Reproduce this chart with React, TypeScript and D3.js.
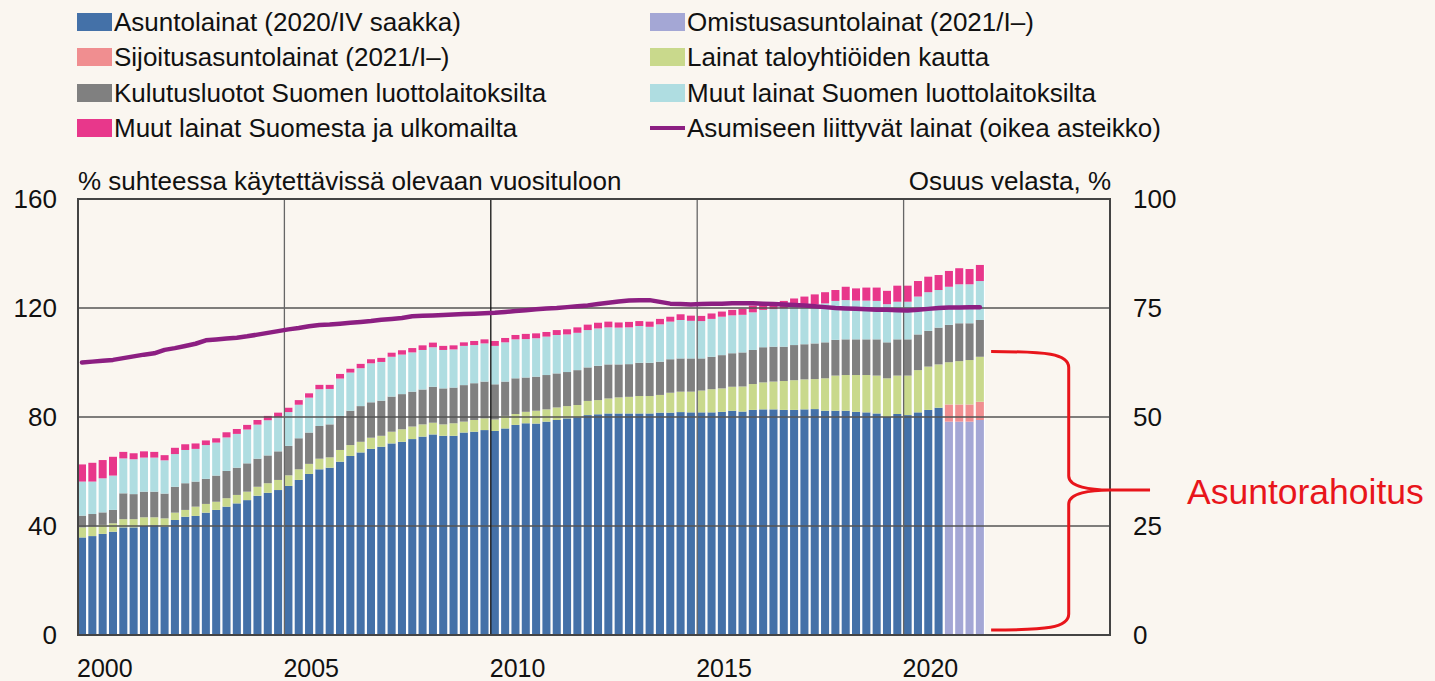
import React from 'react';
import * as d3 from 'd3';

// quarterly, 2000Q1 .. 2021Q4
const YEARS = [2000, 2001, 2002, 2003, 2004, 2005, 2006, 2007, 2008, 2009, 2010,
  2011, 2012, 2013, 2014, 2015, 2016, 2017, 2018, 2019, 2020, 2021];
const QUARTERS = [0, 1, 2, 3];

// Asuntolainat (2020/IV saakka), 2000Q1..2020Q4
const asuntolainat = [
  35.8, 36.3, 37.1, 37.9, 39.5, 39.5, 40.0, 40.3, 39.8, 42.2, 43.4, 43.7,
  44.9, 45.9, 47.1, 48.3, 49.5, 51.1, 52.2, 53.2, 54.7, 56.9, 59.1, 60.8,
  61.4, 63.6, 65.7, 67.0, 68.3, 69.1, 70.3, 70.9, 71.9, 72.8, 73.6, 73.1,
  73.1, 74.3, 74.6, 75.2, 74.9, 75.8, 77.1, 77.7, 77.6, 78.3, 78.9, 79.5,
  79.9, 80.7, 81.0, 81.3, 81.3, 81.3, 81.3, 81.3, 81.6, 81.6, 81.8, 81.7,
  81.7, 81.7, 81.9, 82.3, 82.0, 82.6, 82.8, 82.8, 82.6, 82.6, 82.8, 82.9,
  82.3, 82.3, 82.3, 81.9, 81.7, 81.3, 80.1, 81.1, 80.7, 81.7, 82.6, 83.4,
];
// 2021Q1..Q4
const omistusasuntolainat = [78.3, 78.3, 78.3, 78.9];
const sijoitusasuntolainat = [6.3, 6.3, 6.3, 6.7];

const taloyhtiot = [
  3.7, 3.5, 3.3, 3.1, 3.0, 3.0, 3.2, 2.9, 3.0, 2.7, 2.5, 3.4,
  3.2, 3.0, 3.1, 3.1, 3.1, 3.3, 3.5, 3.7, 3.9, 3.9, 3.7, 3.9,
  3.8, 4.3, 4.0, 3.9, 4.1, 4.0, 4.3, 4.6, 4.6, 4.5, 4.3, 4.2,
  4.6, 4.0, 4.3, 4.3, 4.2, 4.6, 4.0, 4.2, 4.7, 4.5, 4.6, 4.5,
  4.5, 5.2, 5.2, 5.5, 5.9, 6.1, 6.4, 6.4, 6.5, 7.3, 7.5, 7.6,
  8.0, 8.5, 8.6, 8.8, 9.2, 9.5, 9.9, 10.2, 10.6, 10.9, 11.0, 11.0,
  11.9, 12.9, 13.1, 13.5, 13.7, 13.9, 14.1, 14.1, 14.5, 15.5, 15.9, 15.9,
  15.5, 15.9, 16.3, 16.5,
];

const kulutusluotot = [
  4.3, 4.6, 4.6, 4.9, 9.5, 9.2, 9.4, 9.4, 9.1, 9.5, 9.8, 9.2,
  9.2, 9.6, 10.0, 10.0, 10.4, 10.3, 10.2, 10.5, 10.8, 11.4, 11.5, 12.0,
  12.1, 12.5, 12.6, 13.1, 13.0, 12.9, 12.9, 12.9, 12.8, 12.8, 13.2, 13.2,
  13.1, 13.4, 13.5, 13.5, 12.9, 12.6, 13.1, 12.6, 12.5, 12.6, 12.5, 12.5,
  12.8, 12.3, 12.6, 12.5, 12.1, 12.0, 12.2, 12.2, 12.2, 12.3, 12.2, 12.2,
  11.8, 11.9, 12.2, 12.3, 12.5, 12.5, 12.9, 12.8, 12.6, 12.9, 12.9, 13.1,
  13.2, 13.1, 13.1, 13.1, 13.1, 13.3, 13.2, 13.3, 13.3, 13.1, 13.1, 13.5,
  13.7, 13.9, 13.5, 13.5,
];

const muutLuottolaitos = [
  12.5, 11.9, 12.5, 12.6, 12.8, 12.8, 12.5, 12.5, 12.2, 12.0, 12.2, 12.0,
  12.4, 12.1, 12.3, 12.4, 12.4, 12.5, 12.9, 12.5, 12.4, 12.3, 12.8, 13.5,
  13.0, 13.7, 14.0, 13.9, 14.3, 14.2, 14.6, 14.5, 14.4, 14.5, 14.5, 14.1,
  14.0, 14.4, 14.0, 14.0, 14.1, 14.4, 14.3, 14.1, 14.1, 14.1, 14.1, 13.8,
  13.7, 13.7, 13.7, 13.6, 13.5, 13.5, 13.5, 13.2, 13.7, 13.8, 14.1, 13.8,
  13.7, 13.9, 14.1, 13.9, 13.8, 13.8, 13.7, 13.8, 14.1, 14.1, 14.4, 14.3,
  14.3, 14.3, 14.4, 14.2, 14.2, 14.1, 14.0, 13.8, 13.8, 13.9, 14.2, 13.8,
  14.0, 14.3, 14.3, 14.3,
];

const muutUlkomailta = [
  6.3, 6.9, 6.7, 6.9, 2.4, 2.2, 2.3, 2.1, 1.9, 2.3, 2.1, 2.0,
  1.7, 1.6, 1.9, 1.8, 1.7, 1.7, 1.6, 1.7, 1.6, 1.7, 1.6, 1.6,
  1.5, 1.7, 1.4, 1.6, 1.5, 1.5, 1.5, 1.6, 1.6, 1.7, 1.7, 1.5,
  1.5, 1.3, 1.5, 1.5, 1.8, 1.6, 1.6, 1.9, 1.8, 1.7, 1.8, 1.9,
  2.0, 2.0, 2.1, 2.1, 1.9, 2.0, 1.8, 1.9, 2.0, 1.8, 2.1, 1.9,
  1.9, 2.0, 1.9, 2.0, 2.2, 2.5, 2.4, 2.4, 2.7, 3.0, 3.1, 3.7,
  4.1, 4.0, 4.9, 4.5, 4.8, 4.9, 4.9, 5.9, 5.9, 5.7, 5.7, 5.5,
  5.8, 5.9, 5.6, 5.9,
];

// Asumiseen liittyvät lainat, osuus velasta % (oikea asteikko)
const asumiseenOsuus = [
  62.5, 62.7, 62.9, 63.1, 63.5, 63.9, 64.3, 64.6, 65.4, 65.8, 66.3, 66.8,
  67.6, 67.8, 68.0, 68.2, 68.5, 68.9, 69.3, 69.7, 70.1, 70.4, 70.8, 71.1,
  71.2, 71.4, 71.6, 71.8, 72.0, 72.3, 72.5, 72.7, 73.1, 73.2, 73.3, 73.4,
  73.5, 73.6, 73.7, 73.8, 73.9, 74.1, 74.3, 74.5, 74.7, 74.9, 75.0, 75.2,
  75.4, 75.6, 75.9, 76.2, 76.5, 76.7, 76.8, 76.8, 76.4, 76.0, 75.9, 75.8,
  75.9, 76.0, 76.0, 76.1, 76.1, 76.1, 76.0, 75.9, 75.8, 75.7, 75.6, 75.4,
  75.2, 75.0, 74.9, 74.8, 74.7, 74.6, 74.6, 74.5, 74.4, 74.6, 74.8, 75.0,
  75.1, 75.1, 75.2, 75.2,
];

const leftTicks = [0, 40, 80, 120, 160];
const rightTicks = [0, 25, 50, 75, 100];
const yearLabels = [2000, 2005, 2010, 2015, 2020];

const KEYS = ['asunto', 'omistus', 'sijoitus', 'taloyhtio', 'kulutus', 'muutLuotto', 'muutUlko'];
const COLORS: Record<string, string> = {
  asunto: '#4471a8',
  omistus: '#a4a7d5',
  sijoitus: '#f08e90',
  taloyhtio: '#c9d98c',
  kulutus: '#808080',
  muutLuotto: '#afdde1',
  muutUlko: '#e8378b',
  line: '#8c1f82',
  red: '#e8151b',
};
const LEGEND = [
  { key: 'asunto', label: 'Asuntolainat (2020/IV saakka)', col: 0, row: 0 },
  { key: 'sijoitus', label: 'Sijoitusasuntolainat (2021/I–)', col: 0, row: 1 },
  { key: 'kulutus', label: 'Kulutusluotot Suomen luottolaitoksilta', col: 0, row: 2 },
  { key: 'muutUlko', label: 'Muut lainat Suomesta ja ulkomailta', col: 0, row: 3 },
  { key: 'omistus', label: 'Omistusasuntolainat (2021/I–)', col: 1, row: 0 },
  { key: 'taloyhtio', label: 'Lainat taloyhtiöiden kautta', col: 1, row: 1 },
  { key: 'muutLuotto', label: 'Muut lainat Suomen luottolaitoksilta', col: 1, row: 2 },
  { key: 'line', label: 'Asumiseen liittyvät lainat (oikea asteikko)', col: 1, row: 3 },
];

const FONT = '"Liberation Sans", Arial, sans-serif';
const BG = '#faf6f0';
const FS = 26;

export default function App() {
  const W = 1435;
  const H = 681;
  const plot = { left: 78, right: 1110, top: 199, bottom: 635 };

  const periods = YEARS.flatMap(y => QUARTERS.map(q => y + q / 4));
  const nAsunto = asuntolainat.length;

  const rows = periods.map((t, i) => ({
    t,
    asunto: i < nAsunto ? asuntolainat[i] : 0,
    omistus: i >= nAsunto ? omistusasuntolainat[i - nAsunto] : 0,
    sijoitus: i >= nAsunto ? sijoitusasuntolainat[i - nAsunto] : 0,
    taloyhtio: taloyhtiot[i],
    kulutus: kulutusluotot[i],
    muutLuotto: muutLuottolaitos[i],
    muutUlko: muutUlkomailta[i],
  }));

  const x = d3.scaleLinear().domain([2000, 2025]).range([plot.left, plot.right]);
  const yL = d3.scaleLinear().domain([0, 160]).range([plot.bottom, plot.top]);
  const yR = d3.scaleLinear().domain([0, 100]).range([plot.bottom, plot.top]);

  const series = d3.stack<any>().keys(KEYS)(rows);
  const step = x(2000.25) - x(2000);
  const barW = step * 0.78;

  const line = d3.line<number>()
    .x((_, i) => x(periods[i]) + barW / 2)
    .y(d => yR(d));

  // annotation brace, in data units
  const bTop = yL(104);
  const bBot = yL(1.8);
  const bMid = yL(53.2);
  const bx0 = x(2022.12);
  const bxv = x(2024);
  const bTip = x(2025);
  const bEnd = x(2025.97);
  const brace = [
    `M${bx0},${bTop}`,
    `C${bx0 + 55},${bTop} ${bxv},${bTop + 2} ${bxv},${bTop + 16}`,
    `L${bxv},${bMid - 14}`,
    `C${bxv},${bMid - 3} ${bxv + 22},${bMid} ${bTip},${bMid}`,
    `L${bEnd},${bMid}`,
    `M${bTip},${bMid}`,
    `C${bxv + 22},${bMid} ${bxv},${bMid + 3} ${bxv},${bMid + 14}`,
    `L${bxv},${bBot - 16}`,
    `C${bxv},${bBot - 2} ${bx0 + 55},${bBot} ${bx0},${bBot}`,
  ].join(' ');

  const legendX = [77, 650];
  const legendY = [31, 66, 102, 137];

  return (
    <svg width={W} height={H} style={{ position: 'absolute', left: 0, top: 0, display: 'block' }}
      fontFamily={FONT}>
      <rect x={0} y={0} width={W} height={H} fill={BG} />

      {/* legend */}
      {LEGEND.map(l => {
        const lx = legendX[l.col];
        const ly = legendY[l.row];
        return (
          <g key={l.key}>
            {l.key === 'line'
              ? <line x1={lx} x2={lx + 35} y1={ly - 9} y2={ly - 9} stroke={COLORS.line} strokeWidth={4} />
              : <rect x={lx} y={ly - 18} width={35} height={18} fill={COLORS[l.key]} />}
            <text x={lx + 37} y={ly} fontSize={FS} fill="#111">{l.label}</text>
          </g>
        );
      })}

      {/* axis titles */}
      <text x={plot.left} y={190} fontSize={FS} fill="#111">% suhteessa käytettävissä olevaan vuosituloon</text>
      <text x={plot.right + 1} y={190} fontSize={FS} fill="#111" textAnchor="end">Osuus velasta, %</text>

      {/* bar gaps */}
      <g>
        {rows.map((r, i) => {
          const top = series[series.length - 1][i][1];
          return (
            <rect key={i} x={x(r.t) - (step - barW) / 2} y={yL(top)} width={step}
              height={yL(0) - yL(top)} fill="#ffffff" />
          );
        })}
      </g>

      {/* stacked bars */}
      {series.map(s => (
        <g key={s.key} fill={COLORS[s.key]}>
          {s.map((d, i) => (d[1] - d[0] > 0 ? (
            <rect key={i} x={x(periods[i])} y={yL(d[1])} width={barW}
              height={yL(d[0]) - yL(d[1])} />
          ) : null))}
        </g>
      ))}

      {/* grid */}
      {leftTicks.filter(t => t > 0 && t < 160).map(t => (
        <line key={t} x1={plot.left} x2={plot.right} y1={yL(t)} y2={yL(t)} stroke="#555" strokeWidth={1.3} />
      ))}
      {yearLabels.filter(y => y > 2000).map(y => (
        <line key={y} x1={x(y)} x2={x(y)} y1={plot.top} y2={plot.bottom}
          stroke={y === 2010 ? '#111' : '#666'} strokeWidth={1.3} />
      ))}

      {/* line, right axis */}
      <path d={line(asumiseenOsuus) ?? ''} fill="none" stroke={COLORS.line} strokeWidth={4.5}
        strokeLinejoin="round" strokeLinecap="round" />

      {/* frame */}
      <rect x={plot.left} y={plot.top} width={plot.right - plot.left} height={plot.bottom - plot.top}
        fill="none" stroke="#444" strokeWidth={2} />

      {/* left ticks */}
      {leftTicks.map(t => (
        <text key={t} x={57} y={yL(t) + 9} fontSize={FS} textAnchor="end" fill="#111">{t}</text>
      ))}
      {/* right ticks */}
      {rightTicks.map(t => (
        <text key={t} x={1133} y={yR(t) + 9} fontSize={FS} fill="#111">{t}</text>
      ))}
      {/* x labels */}
      {yearLabels.map(y => (
        <text key={y} x={x(y) - 1} y={677} fontSize={25} fill="#111">{y}</text>
      ))}

      {/* annotation */}
      <path d={brace} fill="none" stroke={COLORS.red} strokeWidth={3} strokeLinejoin="round" />
      <text x={1187} y={504} fontSize={35.5} fill={COLORS.red}>Asuntorahoitus</text>
    </svg>
  );
}
